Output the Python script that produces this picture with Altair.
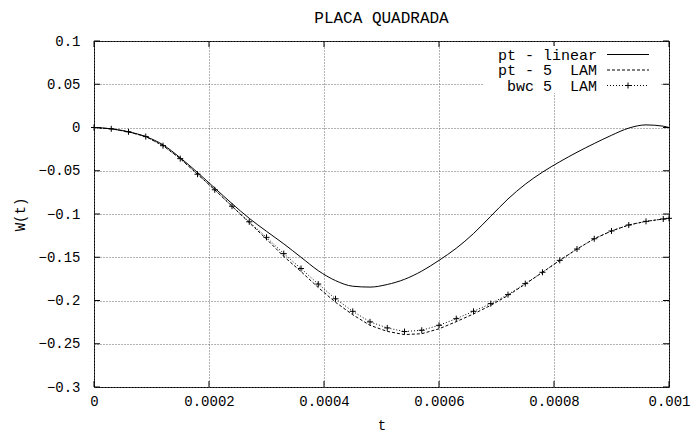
import altair as alt
import pandas as pd

# ---------------- data ----------------
t_vals = [0, 0.00003, 0.00006, 0.00009, 0.00012, 0.00015, 0.00018, 0.00021, 0.00024,
          0.00027, 0.0003, 0.00033, 0.00036, 0.00039, 0.00042, 0.00045, 0.00048,
          0.00051, 0.00054, 0.00057, 0.0006, 0.00063, 0.00066, 0.00069, 0.00072,
          0.00075, 0.00078, 0.00081, 0.00084, 0.00087, 0.0009, 0.00093, 0.00096,
          0.00099, 0.001]

w_linear = [0, -0.0015, -0.005, -0.0105, -0.020, -0.035, -0.052, -0.070, -0.088,
            -0.105, -0.120, -0.1345, -0.150, -0.1655, -0.177, -0.1835, -0.1845,
            -0.1815, -0.1755, -0.166, -0.1536, -0.1396, -0.1226, -0.1026, -0.0826,
            -0.0656, -0.0516, -0.0396, -0.0286, -0.0185, -0.009, -0.0007, 0.003,
            0.0015, 0.0]

w_pt5 = [0, -0.0015, -0.005, -0.0105, -0.021, -0.036, -0.054, -0.072, -0.091,
         -0.110, -0.129, -0.149, -0.1665, -0.185, -0.202, -0.2165, -0.2287,
         -0.2357, -0.2394, -0.2384, -0.2327, -0.2245, -0.2155, -0.2056, -0.1942,
         -0.181, -0.1674, -0.1536, -0.1405, -0.1286, -0.1196, -0.1127, -0.1085,
         -0.1058, -0.105]

w_bwc = [0, -0.0015, -0.005, -0.0105, -0.021, -0.036, -0.054, -0.072, -0.091,
         -0.109, -0.127, -0.1458, -0.163, -0.181, -0.198, -0.2125, -0.2247,
         -0.2317, -0.2359, -0.2344, -0.2287, -0.2210, -0.2125, -0.2036, -0.1932,
         -0.1805, -0.1674, -0.1536, -0.1405, -0.1286, -0.1196, -0.1127, -0.1085,
         -0.1058, -0.105]

x_ticks = [0, 0.0002, 0.0004, 0.0006, 0.0008, 0.001]
y_ticks = [-0.3, -0.25, -0.2, -0.15, -0.1, -0.05, 0, 0.05, 0.1]
series_names = ["pt - linear", "pt - 5\u00a0\u00a0LAM", "bwc 5\u00a0\u00a0LAM"]
chart_title = "PLACA QUADRADA"
x_title = "t"
y_title = "W(t)"

# ---------------- layout ----------------
W, H = 575, 346
FONT = "Liberation Mono"
FS_TICK = 14
FS_TITLE = 16
FS_KEY = 15

df = pd.DataFrame({"t": t_vals, "lin": w_linear, "pt5": w_pt5, "bwc": w_bwc})
xs = alt.Scale(domain=[0, 0.001], nice=False, zero=False)
ys = alt.Scale(domain=[-0.3, 0.1], nice=False, zero=False)

x_axis = alt.Axis(values=x_ticks, grid=True, ticks=False, domain=False,
                  labelExpr="datum.value == 0 ? '0' : format(datum.value, '.4~f')",
                  labelFont=FONT, labelFontSize=FS_TICK, labelColor="black", labelPadding=7,
                  labelFlush=False, labelOverlap=False,
                  gridDash=[1, 2], gridColor="#666", gridWidth=1,
                  title=x_title, titleFont=FONT, titleFontSize=FS_TICK, titleFontWeight="normal",
                  titleColor="black", titleX=W / 2, titleY=38, titleBaseline="middle",
                  titleAlign="center")
y_axis = alt.Axis(values=y_ticks, grid=True, ticks=False, domain=False,
                  labelExpr="datum.value == 0 ? '0' : format(datum.value, '.2~f')",
                  labelFont=FONT, labelFontSize=FS_TICK, labelColor="black", labelPadding=14,
                  labelFlush=False, labelOverlap=False,
                  gridDash=[1, 2], gridColor="#666", gridWidth=1,
                  title=y_title, titleFont=FONT, titleFontSize=FS_TICK, titleFontWeight="normal",
                  titleColor="black", titleX=-74, titleY=H / 2, titleBaseline="middle",
                  titleAlign="center", titleAngle=270)

X = alt.X("t:Q", scale=xs, axis=x_axis)

base = alt.Chart(df)

line_lin = base.mark_line(color="black", strokeWidth=1, interpolate="monotone").encode(
    x=X, y=alt.Y("lin:Q", scale=ys, axis=y_axis))
line_pt5 = base.mark_line(color="black", strokeWidth=1, strokeDash=[3, 2]).encode(
    x=X, y=alt.Y("pt5:Q", scale=ys, axis=y_axis))
line_bwc = base.mark_line(color="black", strokeWidth=1, strokeDash=[1, 2]).encode(
    x=X, y=alt.Y("bwc:Q", scale=ys, axis=y_axis))
CROSS = "M-1,0L1,0M0,-1L0,1"
pts_bwc = base.mark_point(shape=CROSS, size=36, filled=False, color="black",
                          strokeWidth=1, opacity=1).encode(
    x=X, y=alt.Y("bwc:Q", scale=ys, axis=y_axis))

# inward ticks on all four borders
xt = pd.DataFrame({"t": x_ticks})
yt = pd.DataFrame({"v": y_ticks})
tick_b = alt.Chart(xt).mark_rule(color="black", strokeWidth=1).encode(
    x=X, y=alt.value(H), y2=alt.value(H - 6))
tick_t = alt.Chart(xt).mark_rule(color="black", strokeWidth=1).encode(
    x=X, y=alt.value(0), y2=alt.value(6))
tick_l = alt.Chart(yt).mark_rule(color="black", strokeWidth=1).encode(
    y=alt.Y("v:Q", scale=ys, axis=y_axis), x=alt.value(0), x2=alt.value(6))
tick_r = alt.Chart(yt).mark_rule(color="black", strokeWidth=1).encode(
    y=alt.Y("v:Q", scale=ys, axis=y_axis), x=alt.value(W - 6), x2=alt.value(W))

# key (legend) in the top-right corner
key_bg = alt.Chart(pd.DataFrame({"name": [series_names[0]]})).mark_rect(
    color="white", opacity=1).encode(
    x=alt.value(390), x2=alt.value(566), y=alt.value(5), y2=alt.value(52))

TX, S0, S1 = 503, 513, 555
ROWS = [13.5, 29, 44.5]
key_layers = [key_bg]
dashes = [None, [3, 2], [1, 2]]
for i, name in enumerate(series_names):
    d = pd.DataFrame({"name": [name]})
    key_layers.append(alt.Chart(d).mark_text(
        align="right", baseline="middle", font=FONT, fontSize=FS_KEY, color="black").encode(
        text="name:N", x=alt.value(TX), y=alt.value(ROWS[i])))
    kw = dict(color="black", strokeWidth=1)
    if dashes[i]:
        kw["strokeDash"] = dashes[i]
    key_layers.append(alt.Chart(d).mark_rule(**kw).encode(
        x=alt.value(S0), x2=alt.value(S1), y=alt.value(ROWS[i])))
key_layers.append(alt.Chart(pd.DataFrame({"name": [series_names[2]]})).mark_point(
    shape=CROSS, size=36, filled=False, color="black", strokeWidth=1, opacity=1).encode(
    x=alt.value((S0 + S1) / 2), y=alt.value(ROWS[2])))

chart = alt.layer(
    line_lin, line_pt5, line_bwc, pts_bwc,
    tick_b, tick_t, tick_l, tick_r,
    *key_layers,
).properties(
    width=W, height=H,
    title=alt.TitleParams(chart_title, font=FONT, fontSize=FS_TITLE, fontWeight="normal",
                          color="black", anchor="middle", offset=8),
    autosize=alt.AutoSizeParams(type="none"),
    padding={"left": 94, "top": 41, "right": 27, "bottom": 49},
    background="white",
).configure_view(
    stroke="black", strokeWidth=1,
)

chart.save("out.html", embed_options={"renderer": "svg", "actions": False})
